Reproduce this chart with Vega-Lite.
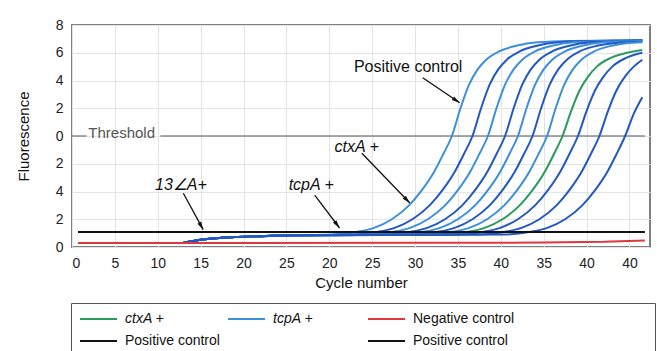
{
  "$schema": "https://vega.github.io/schema/vega-lite/v6.json",
  "width": 578,
  "height": 222,
  "autosize": "none",
  "padding": {"left": 72, "top": 25, "right": 7, "bottom": 104},
  "background": "white",
  "config": {
    "font": "Liberation Sans",
    "view": {"stroke": "#7f7f7f", "strokeWidth": 2},
    "axis": {"domain": false, "ticks": false, "grid": true, "gridColor": "#e4e4e4", "gridWidth": 1, "labelFontSize": 14, "labelColor": "#222", "titleFontSize": 15, "titleFontWeight": "normal", "titleColor": "#111", "labelPadding": 9}
  },
  "datasets": {
    "curves": [
      {"c":"c1","k":"tcpA","x":13,"y":0.3},{"c":"c1","k":"tcpA","x":15,"y":0.52},{"c":"c1","k":"tcpA","x":18,"y":0.68},{"c":"c1","k":"tcpA","x":22,"y":0.78},{"c":"c1","k":"tcpA","x":26,"y":0.84},
      {"c":"c1","k":"tcpA","x":30.3,"y":0.9},{"c":"c1","k":"tcpA","x":33.3,"y":1.1},{"c":"c1","k":"tcpA","x":35.3,"y":1.4},{"c":"c1","k":"tcpA","x":37.3,"y":2.0},{"c":"c1","k":"tcpA","x":39.3,"y":3.0},{"c":"c1","k":"tcpA","x":40.8,"y":4.1},{"c":"c1","k":"tcpA","x":42.3,"y":5.5},{"c":"c1","k":"tcpA","x":43.3,"y":6.7},{"c":"c1","k":"tcpA","x":44.3,"y":8.0},{"c":"c1","k":"tcpA","x":45.3,"y":10.0},{"c":"c1","k":"tcpA","x":46.3,"y":11.7},{"c":"c1","k":"tcpA","x":47.3,"y":12.8},{"c":"c1","k":"tcpA","x":48.3,"y":13.5},{"c":"c1","k":"tcpA","x":49.8,"y":14.1},{"c":"c1","k":"tcpA","x":51.8,"y":14.5},{"c":"c1","k":"tcpA","x":54.3,"y":14.75},{"c":"c1","k":"tcpA","x":58.3,"y":14.85},{"c":"c1","k":"tcpA","x":66.5,"y":14.9},

      {"c":"c2","k":"tcpAd","x":13,"y":0.3},{"c":"c2","k":"tcpAd","x":15,"y":0.52},{"c":"c2","k":"tcpAd","x":18,"y":0.68},{"c":"c2","k":"tcpAd","x":22,"y":0.78},{"c":"c2","k":"tcpAd","x":26,"y":0.84},
      {"c":"c2","k":"tcpAd","x":32.7,"y":0.9},{"c":"c2","k":"tcpAd","x":35.7,"y":1.1},{"c":"c2","k":"tcpAd","x":37.7,"y":1.4},{"c":"c2","k":"tcpAd","x":39.7,"y":2.0},{"c":"c2","k":"tcpAd","x":41.7,"y":3.0},{"c":"c2","k":"tcpAd","x":43.2,"y":4.1},{"c":"c2","k":"tcpAd","x":44.7,"y":5.5},{"c":"c2","k":"tcpAd","x":45.7,"y":6.7},{"c":"c2","k":"tcpAd","x":46.7,"y":8.0},{"c":"c2","k":"tcpAd","x":47.7,"y":10.0},{"c":"c2","k":"tcpAd","x":48.7,"y":11.7},{"c":"c2","k":"tcpAd","x":49.7,"y":12.8},{"c":"c2","k":"tcpAd","x":50.7,"y":13.5},{"c":"c2","k":"tcpAd","x":52.2,"y":14.1},{"c":"c2","k":"tcpAd","x":54.2,"y":14.5},{"c":"c2","k":"tcpAd","x":56.7,"y":14.75},{"c":"c2","k":"tcpAd","x":60.7,"y":14.85},{"c":"c2","k":"tcpAd","x":66.5,"y":14.9},

      {"c":"c3","k":"tcpA","x":13,"y":0.3},{"c":"c3","k":"tcpA","x":15,"y":0.52},{"c":"c3","k":"tcpA","x":18,"y":0.68},{"c":"c3","k":"tcpA","x":22,"y":0.78},{"c":"c3","k":"tcpA","x":26,"y":0.84},
      {"c":"c3","k":"tcpA","x":34.5,"y":0.9},{"c":"c3","k":"tcpA","x":37.5,"y":1.1},{"c":"c3","k":"tcpA","x":39.5,"y":1.4},{"c":"c3","k":"tcpA","x":41.5,"y":2.0},{"c":"c3","k":"tcpA","x":43.5,"y":3.0},{"c":"c3","k":"tcpA","x":45,"y":4.1},{"c":"c3","k":"tcpA","x":46.5,"y":5.5},{"c":"c3","k":"tcpA","x":47.5,"y":6.7},{"c":"c3","k":"tcpA","x":48.5,"y":8.0},{"c":"c3","k":"tcpA","x":49.5,"y":10.0},{"c":"c3","k":"tcpA","x":50.5,"y":11.7},{"c":"c3","k":"tcpA","x":51.5,"y":12.8},{"c":"c3","k":"tcpA","x":52.5,"y":13.5},{"c":"c3","k":"tcpA","x":54,"y":14.1},{"c":"c3","k":"tcpA","x":56,"y":14.5},{"c":"c3","k":"tcpA","x":58.5,"y":14.75},{"c":"c3","k":"tcpA","x":62.5,"y":14.85},{"c":"c3","k":"tcpA","x":66.5,"y":14.9},

      {"c":"c4","k":"tcpAd","x":13,"y":0.3},{"c":"c4","k":"tcpAd","x":15,"y":0.52},{"c":"c4","k":"tcpAd","x":18,"y":0.68},{"c":"c4","k":"tcpAd","x":22,"y":0.78},{"c":"c4","k":"tcpAd","x":26,"y":0.84},
      {"c":"c4","k":"tcpAd","x":36.5,"y":0.9},{"c":"c4","k":"tcpAd","x":39.5,"y":1.1},{"c":"c4","k":"tcpAd","x":41.5,"y":1.4},{"c":"c4","k":"tcpAd","x":43.5,"y":2.0},{"c":"c4","k":"tcpAd","x":45.5,"y":3.0},{"c":"c4","k":"tcpAd","x":47,"y":4.1},{"c":"c4","k":"tcpAd","x":48.5,"y":5.5},{"c":"c4","k":"tcpAd","x":49.5,"y":6.7},{"c":"c4","k":"tcpAd","x":50.5,"y":8.0},{"c":"c4","k":"tcpAd","x":51.5,"y":10.0},{"c":"c4","k":"tcpAd","x":52.5,"y":11.7},{"c":"c4","k":"tcpAd","x":53.5,"y":12.8},{"c":"c4","k":"tcpAd","x":54.5,"y":13.5},{"c":"c4","k":"tcpAd","x":56,"y":14.1},{"c":"c4","k":"tcpAd","x":58,"y":14.5},{"c":"c4","k":"tcpAd","x":60.5,"y":14.75},{"c":"c4","k":"tcpAd","x":64.5,"y":14.85},{"c":"c4","k":"tcpAd","x":66.5,"y":14.88},

      {"c":"c5","k":"tcpA","x":13,"y":0.3},{"c":"c5","k":"tcpA","x":15,"y":0.52},{"c":"c5","k":"tcpA","x":18,"y":0.68},{"c":"c5","k":"tcpA","x":22,"y":0.78},{"c":"c5","k":"tcpA","x":26,"y":0.84},
      {"c":"c5","k":"tcpA","x":38,"y":0.9},{"c":"c5","k":"tcpA","x":41,"y":1.1},{"c":"c5","k":"tcpA","x":43,"y":1.4},{"c":"c5","k":"tcpA","x":45,"y":2.0},{"c":"c5","k":"tcpA","x":47,"y":3.0},{"c":"c5","k":"tcpA","x":48.5,"y":4.1},{"c":"c5","k":"tcpA","x":50,"y":5.5},{"c":"c5","k":"tcpA","x":51,"y":6.7},{"c":"c5","k":"tcpA","x":52,"y":8.0},{"c":"c5","k":"tcpA","x":53,"y":10.0},{"c":"c5","k":"tcpA","x":54,"y":11.7},{"c":"c5","k":"tcpA","x":55,"y":12.8},{"c":"c5","k":"tcpA","x":56,"y":13.5},{"c":"c5","k":"tcpA","x":57.5,"y":14.1},{"c":"c5","k":"tcpA","x":59.5,"y":14.5},{"c":"c5","k":"tcpA","x":62,"y":14.75},{"c":"c5","k":"tcpA","x":66.5,"y":14.85},

      {"c":"c6","k":"tcpAd","x":13,"y":0.3},{"c":"c6","k":"tcpAd","x":15,"y":0.52},{"c":"c6","k":"tcpAd","x":18,"y":0.68},{"c":"c6","k":"tcpAd","x":22,"y":0.78},{"c":"c6","k":"tcpAd","x":26,"y":0.84},
      {"c":"c6","k":"tcpAd","x":39.7,"y":0.9},{"c":"c6","k":"tcpAd","x":42.7,"y":1.1},{"c":"c6","k":"tcpAd","x":44.7,"y":1.4},{"c":"c6","k":"tcpAd","x":46.7,"y":2.0},{"c":"c6","k":"tcpAd","x":48.7,"y":3.0},{"c":"c6","k":"tcpAd","x":50.2,"y":4.1},{"c":"c6","k":"tcpAd","x":51.7,"y":5.5},{"c":"c6","k":"tcpAd","x":52.7,"y":6.7},{"c":"c6","k":"tcpAd","x":53.7,"y":8.0},{"c":"c6","k":"tcpAd","x":54.7,"y":10.0},{"c":"c6","k":"tcpAd","x":55.7,"y":11.7},{"c":"c6","k":"tcpAd","x":56.7,"y":12.8},{"c":"c6","k":"tcpAd","x":57.7,"y":13.5},{"c":"c6","k":"tcpAd","x":59.2,"y":14.1},{"c":"c6","k":"tcpAd","x":61.2,"y":14.5},{"c":"c6","k":"tcpAd","x":63.7,"y":14.72},{"c":"c6","k":"tcpAd","x":66.5,"y":14.8},

      {"c":"c7","k":"tcpA","x":13,"y":0.3},{"c":"c7","k":"tcpA","x":15,"y":0.52},{"c":"c7","k":"tcpA","x":18,"y":0.68},{"c":"c7","k":"tcpA","x":22,"y":0.78},{"c":"c7","k":"tcpA","x":26,"y":0.84},
      {"c":"c7","k":"tcpA","x":41.4,"y":0.9},{"c":"c7","k":"tcpA","x":44.4,"y":1.1},{"c":"c7","k":"tcpA","x":46.4,"y":1.4},{"c":"c7","k":"tcpA","x":48.4,"y":2.0},{"c":"c7","k":"tcpA","x":50.4,"y":3.0},{"c":"c7","k":"tcpA","x":51.9,"y":4.1},{"c":"c7","k":"tcpA","x":53.4,"y":5.5},{"c":"c7","k":"tcpA","x":54.4,"y":6.7},{"c":"c7","k":"tcpA","x":55.4,"y":8.0},{"c":"c7","k":"tcpA","x":56.4,"y":10.0},{"c":"c7","k":"tcpA","x":57.4,"y":11.7},{"c":"c7","k":"tcpA","x":58.4,"y":12.8},{"c":"c7","k":"tcpA","x":59.4,"y":13.5},{"c":"c7","k":"tcpA","x":60.9,"y":14.1},{"c":"c7","k":"tcpA","x":62.9,"y":14.5},{"c":"c7","k":"tcpA","x":65.4,"y":14.72},{"c":"c7","k":"tcpA","x":66.5,"y":14.76},

      {"c":"c8","k":"ctxA","x":13,"y":0.3},{"c":"c8","k":"ctxA","x":15,"y":0.52},{"c":"c8","k":"ctxA","x":18,"y":0.68},{"c":"c8","k":"ctxA","x":22,"y":0.78},{"c":"c8","k":"ctxA","x":26,"y":0.84},
      {"c":"c8","k":"ctxA","x":43.2,"y":0.9},{"c":"c8","k":"ctxA","x":46.2,"y":1.1},{"c":"c8","k":"ctxA","x":48.2,"y":1.4},{"c":"c8","k":"ctxA","x":50.2,"y":2.0},{"c":"c8","k":"ctxA","x":52.2,"y":3.0},{"c":"c8","k":"ctxA","x":53.7,"y":4.1},{"c":"c8","k":"ctxA","x":55.2,"y":5.5},{"c":"c8","k":"ctxA","x":56.2,"y":6.7},{"c":"c8","k":"ctxA","x":57.2,"y":8.0},{"c":"c8","k":"ctxA","x":58.2,"y":9.8},{"c":"c8","k":"ctxA","x":59.2,"y":11.3},{"c":"c8","k":"ctxA","x":60.2,"y":12.3},{"c":"c8","k":"ctxA","x":61.2,"y":13.0},{"c":"c8","k":"ctxA","x":62.7,"y":13.6},{"c":"c8","k":"ctxA","x":64.7,"y":14.0},{"c":"c8","k":"ctxA","x":66.5,"y":14.2},

      {"c":"c9","k":"tcpAd","x":13,"y":0.3},{"c":"c9","k":"tcpAd","x":15,"y":0.52},{"c":"c9","k":"tcpAd","x":18,"y":0.68},{"c":"c9","k":"tcpAd","x":22,"y":0.78},{"c":"c9","k":"tcpAd","x":26,"y":0.84},
      {"c":"c9","k":"tcpAd","x":45,"y":0.9},{"c":"c9","k":"tcpAd","x":48,"y":1.1},{"c":"c9","k":"tcpAd","x":50,"y":1.4},{"c":"c9","k":"tcpAd","x":52,"y":2.0},{"c":"c9","k":"tcpAd","x":54,"y":3.0},{"c":"c9","k":"tcpAd","x":55.5,"y":4.1},{"c":"c9","k":"tcpAd","x":57,"y":5.5},{"c":"c9","k":"tcpAd","x":58,"y":6.7},{"c":"c9","k":"tcpAd","x":59,"y":8.0},{"c":"c9","k":"tcpAd","x":60,"y":9.8},{"c":"c9","k":"tcpAd","x":61,"y":11.3},{"c":"c9","k":"tcpAd","x":62,"y":12.3},{"c":"c9","k":"tcpAd","x":63,"y":13.0},{"c":"c9","k":"tcpAd","x":64.5,"y":13.6},{"c":"c9","k":"tcpAd","x":66.5,"y":14.0},

      {"c":"c10","k":"tcpAd","x":13,"y":0.3},{"c":"c10","k":"tcpAd","x":15,"y":0.52},{"c":"c10","k":"tcpAd","x":18,"y":0.68},{"c":"c10","k":"tcpAd","x":22,"y":0.78},{"c":"c10","k":"tcpAd","x":26,"y":0.84},
      {"c":"c10","k":"tcpAd","x":47.5,"y":0.9},{"c":"c10","k":"tcpAd","x":50.5,"y":1.1},{"c":"c10","k":"tcpAd","x":52.5,"y":1.4},{"c":"c10","k":"tcpAd","x":54.5,"y":2.0},{"c":"c10","k":"tcpAd","x":56.5,"y":3.0},{"c":"c10","k":"tcpAd","x":58,"y":4.1},{"c":"c10","k":"tcpAd","x":59.5,"y":5.5},{"c":"c10","k":"tcpAd","x":60.5,"y":6.7},{"c":"c10","k":"tcpAd","x":61.5,"y":8.0},{"c":"c10","k":"tcpAd","x":62.5,"y":9.8},{"c":"c10","k":"tcpAd","x":63.5,"y":11.3},{"c":"c10","k":"tcpAd","x":64.5,"y":12.3},{"c":"c10","k":"tcpAd","x":65.5,"y":13.0},{"c":"c10","k":"tcpAd","x":66.5,"y":13.5},

      {"c":"c11","k":"tcpAd","x":13,"y":0.3},{"c":"c11","k":"tcpAd","x":15,"y":0.52},{"c":"c11","k":"tcpAd","x":18,"y":0.68},{"c":"c11","k":"tcpAd","x":22,"y":0.78},{"c":"c11","k":"tcpAd","x":26,"y":0.84},
      {"c":"c11","k":"tcpAd","x":50.5,"y":0.9},{"c":"c11","k":"tcpAd","x":53.5,"y":1.1},{"c":"c11","k":"tcpAd","x":55.5,"y":1.4},{"c":"c11","k":"tcpAd","x":57.5,"y":2.0},{"c":"c11","k":"tcpAd","x":59.5,"y":3.0},{"c":"c11","k":"tcpAd","x":61,"y":4.1},{"c":"c11","k":"tcpAd","x":62.5,"y":5.5},{"c":"c11","k":"tcpAd","x":63.5,"y":6.7},{"c":"c11","k":"tcpAd","x":64.5,"y":8.0},{"c":"c11","k":"tcpAd","x":65.5,"y":9.6},{"c":"c11","k":"tcpAd","x":66.5,"y":10.8}
    ],
    "controls": [
      {"c":"pc","k":"pos","x":0.7,"y":1.08},{"c":"pc","k":"pos","x":66.8,"y":1.08},
      {"c":"nc","k":"neg","x":0.7,"y":0.28},{"c":"nc","k":"neg","x":40,"y":0.3},{"c":"nc","k":"neg","x":55,"y":0.32},{"c":"nc","k":"neg","x":62,"y":0.37},{"c":"nc","k":"neg","x":66.8,"y":0.47}
    ],
    "threshold": [
      {"x":0,"x2":1.7,"y":8},{"x":10.3,"x2":66.8,"y":8}
    ],
    "thresholdLabel": [
      {"t":"Threshold","x":1.9,"y":8}
    ],
    "arrows": [
      {"id":"pc","x":40.9,"y":12.2,"x2":45.2,"y2":10.4},
      {"id":"ctx","x":33.8,"y":6.76,"x2":39.4,"y2":3.17},
      {"id":"tcp","x":28.3,"y":3.74,"x2":31.2,"y2":1.37},
      {"id":"a13","x":12.98,"y":3.87,"x2":15.3,"y2":1.25}
    ],
    "notes": [
      {"label":"ctxA +","x":33.2,"y":7.2},
      {"label":"tcpA +","x":27.9,"y":4.46},
      {"label":"13∠A+","x":12.7,"y":4.46}
    ]
  },
  "encoding": {
    "x": {"field": "x", "type": "quantitative", "title": "Cycle number",
      "scale": {"domain": [0, 67.4], "nice": false, "zero": false},
      "axis": {"values": [0,5,10,15,20,25,30,35,40,45,50,55,60,65], "labelExpr": "['0','5','10','15','20','25','20','25','30','35','40','35','40','40'][round(datum.value/5)]", "titlePadding": 5}},
    "y": {"field": "y", "type": "quantitative", "title": "Fluorescence",
      "scale": {"domain": [0, 16], "nice": false},
      "axis": {"values": [0,2,4,6,8,10,12,14,16], "labelExpr": "['0','2','4','2','0','2','4','6','8'][round(datum.value/2)]", "titlePadding": 24}}
  },
  "layer": [
    {
      "mark": {"type": "rect", "fill": null, "fillOpacity": 0, "stroke": "#7ea6dc", "strokeWidth": 1.5, "clip": false},
      "encoding": {
        "x": {"datum": -7.23, "type": "quantitative"},
        "x2": {"datum": 69},
        "y": {"datum": 16.94, "type": "quantitative"},
        "y2": {"datum": -9}
      }
    },
    {
      "data": {"name": "threshold"},
      "mark": {"type": "rule", "color": "#8a8a8a", "strokeWidth": 1.5},
      "encoding": {"x2": {"field": "x2"}}
    },
    {
      "data": {"name": "thresholdLabel"},
      "mark": {"type": "text", "align": "left", "baseline": "middle", "dy": -3, "fontSize": 15, "color": "#555"},
      "encoding": {"text": {"field": "t"}}
    },
    {
      "data": {"name": "curves"},
      "mark": {"type": "line", "interpolate": "monotone", "strokeWidth": 2},
      "encoding": {
        "detail": {"field": "c"},
        "color": {"field": "k", "type": "nominal",
          "scale": {"domain": ["ctxA","tcpA","neg","pos","blank","pos2","tcpAd"], "range": ["#2a9a5e","#3b8fdd","#e0363c","#111111","rgba(0,0,0,0)","#111111","#2257c4"]},
          "legend": {
            "values": ["ctxA","tcpA","neg","pos","blank","pos2"],
            "title": null,
            "orient": "none", "legendX": -1, "legendY": 278, "direction": "horizontal",
            "columns": 3, "columnPadding": 7, "rowPadding": 6, "clipHeight": 16,
            "symbolType": "stroke", "symbolSize": 1369, "symbolStrokeWidth": 2, "labelOffset": 7,
            "labelFontSize": 14, "labelColor": "#111", "labelLimit": 320, "padding": 8,
            "strokeColor": "#555",
            "labelExpr": "datum.value == 'ctxA' ? 'ctxA +' : datum.value == 'tcpA' ? 'tcpA +\u00a0\u00a0\u00a0\u00a0\u00a0\u00a0\u00a0\u00a0\u00a0\u00a0\u00a0\u00a0\u200b' : datum.value == 'neg' ? 'Negative control\u00a0\u00a0\u00a0\u00a0\u00a0\u00a0\u00a0\u00a0\u00a0\u00a0\u00a0\u00a0\u00a0\u00a0\u00a0\u00a0\u00a0\u00a0\u00a0\u00a0\u00a0\u00a0\u00a0\u00a0\u00a0\u00a0\u00a0\u00a0\u00a0\u00a0\u00a0\u00a0\u00a0\u00a0\u200b' : datum.value == 'blank' ? '' : 'Positive control'",
            "encode": {"labels": {"update": {"fontStyle": {"signal": "(datum.value == 'ctxA' || datum.value == 'tcpA') ? 'italic' : 'normal'"}}}}
          }}
      }
    },
    {
      "data": {"name": "controls"},
      "mark": {"type": "line", "strokeWidth": 2},
      "encoding": {
        "detail": {"field": "c"},
        "color": {"field": "k", "type": "nominal",
          "scale": {"domain": ["ctxA","tcpA","neg","pos","blank","pos2","tcpAd"], "range": ["#2a9a5e","#3b8fdd","#e0363c","#111111","rgba(0,0,0,0)","#111111","#2257c4"]}}
      }
    },
    {
      "data": {"name": "arrows"},
      "mark": {"type": "rule", "color": "#111", "strokeWidth": 1.3},
      "encoding": {"x2": {"field": "x2"}, "y2": {"field": "y2"}}
    },
    {
      "data": {"name": "arrows"},
      "transform": [{"filter": "datum.id == 'pc'"}],
      "mark": {"type": "point", "shape": "M0,0L0.45,1.7L-0.45,1.7Z", "filled": true, "color": "#111", "opacity": 1, "size": 90, "angle": 124},
      "encoding": {"x": {"field": "x2", "type": "quantitative"}, "y": {"field": "y2", "type": "quantitative"}}
    },
    {
      "data": {"name": "arrows"},
      "transform": [{"filter": "datum.id == 'ctx'"}],
      "mark": {"type": "point", "shape": "M0,0L0.45,1.7L-0.45,1.7Z", "filled": true, "color": "#111", "opacity": 1, "size": 90, "angle": 136},
      "encoding": {"x": {"field": "x2", "type": "quantitative"}, "y": {"field": "y2", "type": "quantitative"}}
    },
    {
      "data": {"name": "arrows"},
      "transform": [{"filter": "datum.id == 'tcp'"}],
      "mark": {"type": "point", "shape": "M0,0L0.45,1.7L-0.45,1.7Z", "filled": true, "color": "#111", "opacity": 1, "size": 90, "angle": 143},
      "encoding": {"x": {"field": "x2", "type": "quantitative"}, "y": {"field": "y2", "type": "quantitative"}}
    },
    {
      "data": {"name": "arrows"},
      "transform": [{"filter": "datum.id == 'a13'"}],
      "mark": {"type": "point", "shape": "M0,0L0.45,1.7L-0.45,1.7Z", "filled": true, "color": "#111", "opacity": 1, "size": 90, "angle": 151},
      "encoding": {"x": {"field": "x2", "type": "quantitative"}, "y": {"field": "y2", "type": "quantitative"}}
    },
    {
      "data": {"values": [{"label": "Positive control", "x": 39.2, "y": 12.95}]},
      "mark": {"type": "text", "fontSize": 16, "color": "#111", "baseline": "middle"},
      "encoding": {"text": {"field": "label"}}
    },
    {
      "data": {"name": "notes"},
      "mark": {"type": "text", "fontSize": 16, "fontStyle": "italic", "color": "#111", "baseline": "middle"},
      "encoding": {"text": {"field": "label"}}
    }
  ]
}
